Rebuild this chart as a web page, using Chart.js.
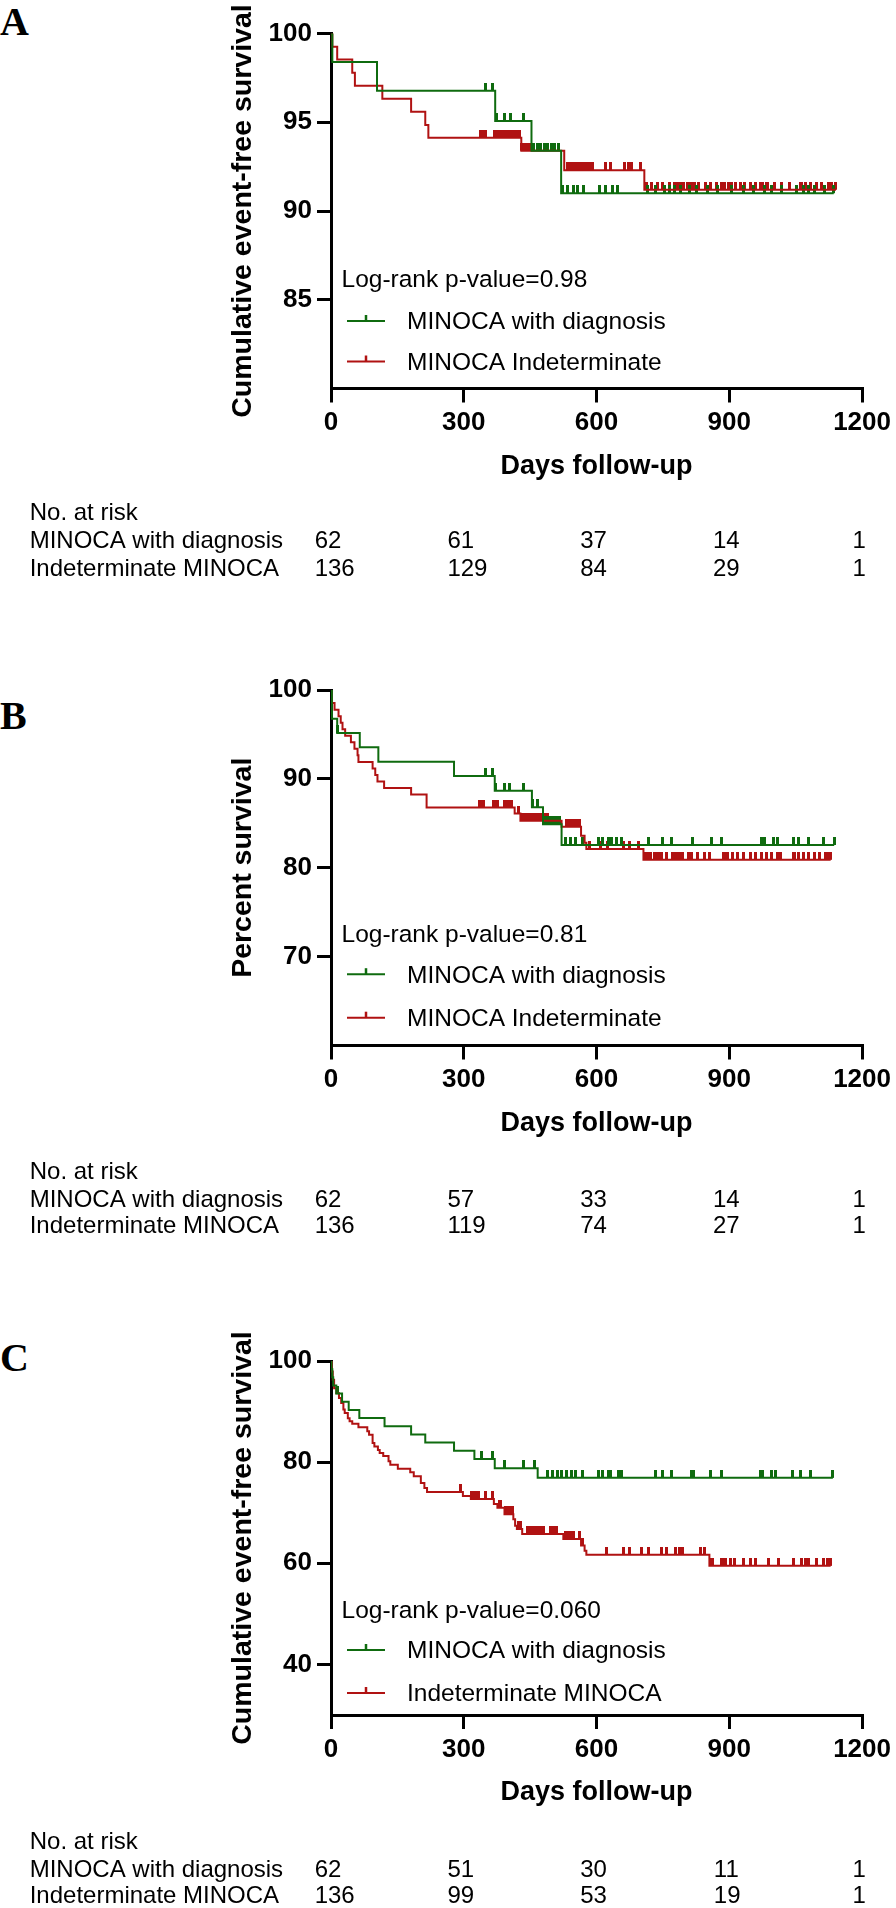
<!DOCTYPE html>
<html>
<head>
<meta charset="utf-8">
<script src="https://cdn.jsdelivr.net/npm/chart.js@4.4.1/dist/chart.umd.min.js"></script>
<style>
html,body{margin:0;padding:0;background:#fff;}
body{width:896px;height:1908px;position:relative;overflow:hidden;}
canvas{position:absolute;left:0;}
.lbl{position:absolute;left:0;font-family:"Liberation Serif","Times New Roman",serif;font-weight:bold;font-size:40px;line-height:40px;color:#000;}
</style>
</head>
<body>
<div class="lbl" style="top:2px">A</div>
<div class="lbl" style="top:696px">B</div>
<div class="lbl" style="top:1338px">C</div>
<canvas id="cA" width="896" height="600" style="top:0px"></canvas>
<canvas id="cB" width="896" height="620" style="top:640px"></canvas>
<canvas id="cC" width="896" height="608" style="top:1300px"></canvas>
<script>
// ---------------- DATA ----------------
const xTicks = [0, 300, 600, 900, 1200];
const xTickLabels = ['0', '300', '600', '900', '1200'];
const atRiskDays = [0, 300, 600, 900, 1200];
const tableLabels = ['MINOCA with diagnosis', 'Indeterminate MINOCA'];

// Panel A
const yTicksA = [85, 90, 95, 100];
const yTitleA = 'Cumulative event-free survival';
const pTextA = 'Log-rank p-value=0.98';
const legendA = ['MINOCA with diagnosis', 'MINOCA Indeterminate'];
const aDiagDays = [0, 3, 104, 371, 453, 520, 1136];
const aDiagSurv = [100, 98.39, 96.77, 95.07, 93.4, 91.0, 91.0];
const aDiagCensor = [350, 366, 375, 393, 405, 435, 458, 466, 474, 482, 490, 498, 506, 514, 523, 535, 547, 557, 571, 607, 620, 636, 648, 716, 733, 753, 765, 777, 790, 809, 826, 850, 874, 906, 931, 955, 979, 995, 1019, 1052, 1068, 1080, 1092, 1116, 1136];
const aIndDays = [0, 3, 14, 48, 54, 116, 181, 213, 220, 430, 527, 708, 1141];
const aIndSurv = [100, 99.26, 98.53, 97.79, 97.06, 96.32, 95.59, 94.85, 94.12, 93.4, 92.3, 91.2, 91.2];
const aIndCensor = [337, 340, 343, 346, 349, 369, 372, 375, 378, 381, 386, 391, 396, 401, 405, 410, 414, 418, 422, 426, 431, 434, 438, 441, 444, 448, 535, 538, 541, 544, 547, 551, 555, 559, 563, 567, 571, 575, 579, 585, 590, 620, 632, 664, 672, 680, 700, 712, 725, 737, 749, 765, 777, 781, 785, 789, 793, 797, 805, 811, 817, 822, 830, 846, 858, 870, 882, 886, 890, 898, 906, 914, 926, 935, 947, 959, 971, 975, 983, 987, 1003, 1019, 1035, 1060, 1064, 1072, 1084, 1096, 1108, 1124, 1132, 1141];
const atRiskA = [[62, 61, 37, 14, 1], [136, 129, 84, 29, 1]];

// Panel B
const yTicksB = [70, 80, 90, 100];
const yTitleB = 'Percent survival';
const pTextB = 'Log-rank p-value=0.81';
const legendB = ['MINOCA with diagnosis', 'MINOCA Indeterminate'];
const bDiagDays = [0, 2, 14, 65, 107, 278, 370, 454, 479, 521, 1137];
const bDiagSurv = [100, 96.77, 95.16, 93.55, 91.94, 90.32, 88.65, 86.8, 84.9, 82.56, 82.56];
const bDiagCensor = [15, 350, 366, 372, 392, 404, 436, 456, 466, 481, 487, 493, 499, 505, 511, 517, 529, 541, 553, 568, 605, 614, 626, 634, 646, 656, 718, 750, 769, 817, 859, 883, 972, 980, 1000, 1008, 1044, 1056, 1080, 1113, 1137];
const bIndDays = [0, 2, 8, 17, 22, 26, 32, 45, 53, 60, 62, 94, 100, 105, 120, 181, 216, 415, 428, 521, 565, 573, 577, 706, 1129];
const bIndSurv = [100, 98.53, 97.79, 97.06, 96.32, 95.59, 94.85, 94.12, 93.38, 92.65, 91.91, 91.18, 90.44, 89.71, 88.97, 88.24, 86.77, 86.1, 85.3, 84.6, 83.6, 82.8, 82.1, 80.9, 80.9];
const bIndCensor = [336, 340, 344, 368, 372, 376, 392, 396, 400, 404, 408, 424, 432, 436, 440, 444, 448, 452, 457, 461, 465, 469, 473, 477, 481, 485, 489, 533, 537, 541, 545, 549, 553, 557, 561, 585, 609, 625, 662, 674, 694, 710, 714, 718, 722, 730, 738, 742, 746, 758, 771, 775, 779, 783, 787, 791, 795, 807, 815, 827, 843, 855, 887, 891, 895, 907, 919, 932, 948, 960, 972, 984, 996, 1008, 1016, 1044, 1048, 1056, 1068, 1080, 1092, 1104, 1117, 1121, 1129];
const atRiskB = [[62, 57, 33, 14, 1], [136, 119, 74, 27, 1]];

// Panel C
const yTicksC = [40, 60, 80, 100];
const yTitleC = 'Cumulative event-free survival';
const pTextC = 'Log-rank p-value=0.060';
const legendC = ['MINOCA with diagnosis', 'Indeterminate MINOCA'];
const cDiagDays = [0, 1, 3, 5, 12, 25, 40, 64, 121, 181, 213, 278, 324, 370, 467, 1134];
const cDiagSurv = [100, 98.39, 96.77, 95.16, 93.55, 91.94, 90.32, 88.71, 87.10, 85.48, 83.87, 82.26, 80.6, 78.8, 76.9, 76.9];
const cDiagCensor = [15, 340, 366, 392, 435, 459, 489, 501, 511, 521, 533, 544, 553, 568, 605, 614, 626, 632, 650, 656, 734, 750, 769, 815, 819, 857, 883, 970, 976, 996, 1004, 1043, 1060, 1083, 1134];
const cIndDays = [0, 2, 4, 7, 12, 18, 23, 28, 31, 38, 42, 48, 62, 82, 86, 94, 98, 106, 110, 118, 130, 134, 151, 179, 187, 203, 211, 217, 298, 316, 368, 376, 392, 412, 416, 420, 432, 525, 565, 573, 577, 855, 1129];
const cIndSurv = [100, 97.9, 96.3, 94.6, 93.6, 92.7, 91.7, 90.4, 89.7, 88.7, 88.1, 87.6, 86.9, 86.1, 85.4, 83.8, 83.1, 82.4, 81.8, 81.2, 80.2, 79.5, 78.7, 78.0, 77.2, 75.9, 74.9, 74.1, 73.3, 72.7, 71.7, 71.0, 69.7, 68.7, 67.4, 66.8, 65.8, 64.8, 63.5, 62.5, 61.7, 59.5, 59.5];
const cIndCensor = [293, 318, 321, 324, 327, 330, 333, 350, 366, 380, 384, 395, 398, 402, 406, 410, 424, 428, 444, 448, 452, 456, 460, 465, 469, 473, 477, 481, 497, 501, 505, 509, 529, 533, 537, 541, 545, 549, 561, 569, 622, 662, 674, 702, 718, 746, 758, 779, 787, 791, 795, 835, 843, 859, 863, 883, 887, 891, 903, 911, 932, 948, 960, 988, 1012, 1044, 1064, 1072, 1080, 1097, 1113, 1121, 1129];
const atRiskC = [[62, 51, 30, 11, 1], [136, 99, 53, 19, 1]];

// ---------------- STYLE / LAYOUT ----------------
const FONT = '"Liberation Sans", Arial, Helvetica, sans-serif';
const GREEN = '#0f6b0f';
const RED = '#b01212';

function tickImage(color) {
  const c = document.createElement('canvas');
  c.width = 3; c.height = 16;
  const g = c.getContext('2d');
  g.fillStyle = color;
  g.fillRect(0, 0, 3, 8);
  return c;
}
function survAt(days, surv, t) {
  let v = surv[0];
  for (let i = 0; i < days.length; i++) { if (days[i] <= t) v = surv[i]; }
  return v;
}

const overlay = {
  id: 'overlay',
  afterDraw(chart, args, o) {
    const ctx = chart.ctx;
    const bottom = chart.chartArea.bottom;
    const xs = chart.scales.x;
    const L = o.lay;
    ctx.save();
    ctx.font = '24.5px ' + FONT;
    ctx.fillStyle = '#000';
    ctx.textAlign = 'left';
    ctx.textBaseline = 'alphabetic';
    ctx.fillText(o.pText, 341.5, bottom - L.p);
    o.legend.forEach((t, i) => {
      const y = bottom - L.leg[i];
      ctx.strokeStyle = o.colors[i];
      ctx.lineWidth = 2;
      ctx.beginPath(); ctx.moveTo(347, y); ctx.lineTo(385, y); ctx.stroke();
      ctx.lineWidth = 2.5;
      ctx.beginPath(); ctx.moveTo(366, y); ctx.lineTo(366, y - 6); ctx.stroke();
      ctx.fillStyle = '#000';
      ctx.fillText(t, 407, y + 8.3);
    });
    ctx.font = '24px ' + FONT;
    ctx.fillText('No. at risk', 29.7, bottom + L.tab[0]);
    ctx.fillText(tableLabels[0], 29.7, bottom + L.tab[1]);
    ctx.fillText(tableLabels[1], 29.7, bottom + L.tab[2]);
    atRiskDays.forEach((d, k) => {
      const px = xs.getPixelForValue(d);
      const w1 = ctx.measureText(String(o.atRisk[0][k])).width;
      const left = px - w1 / 2 - 3;
      ctx.fillText(String(o.atRisk[0][k]), left, bottom + L.tab[1]);
      ctx.fillText(String(o.atRisk[1][k]), left, bottom + L.tab[2]);
    });
    ctx.restore();
  }
};

function makePanel(p) {
  const datasets = [];
  p.groups.forEach(g => {
    datasets.push({
      data: g.days.map((d, i) => ({ x: d, y: g.surv[i] })),
      borderColor: g.color, backgroundColor: g.color, borderWidth: 2,
      stepped: 'before', pointRadius: 0, fill: false
    });
  });
  p.groups.forEach(g => {
    datasets.push({
      data: g.censor.map(t => ({ x: t, y: survAt(g.days, g.surv, t) })),
      showLine: false, borderColor: g.color, backgroundColor: g.color,
      pointStyle: tickImage(g.color), pointRadius: 8, pointHoverRadius: 8
    });
  });
  const axisGrid = { drawOnChartArea: false, drawTicks: true, tickLength: 14, tickWidth: 3, tickColor: '#000', lineWidth: 3, color: '#000' };
  const axisBorder = { display: true, color: '#000', width: 3 };
  new Chart(document.getElementById(p.id), {
    type: 'line',
    data: { datasets },
    plugins: [overlay],
    options: {
      responsive: false, animation: false, devicePixelRatio: 1,
      layout: { padding: { left: 226, right: 33, top: p.padTop, bottom: p.padBottom } },
      plugins: {
        legend: { display: false }, tooltip: { enabled: false },
        overlay: { lay: p.lay, pText: p.pText, legend: p.legend, colors: p.groups.map(g => g.color), atRisk: p.atRisk }
      },
      scales: {
        x: {
          type: 'linear', min: 0, max: 1200,
          afterBuildTicks: s => { s.ticks = xTicks.map(v => ({ value: v })); },
          afterFit: s => { s.height = 94.2; },
          ticks: { callback: (v, i) => xTickLabels[i], font: { family: FONT, size: 26, weight: 'bold' }, color: '#000', padding: 5, maxRotation: 0, autoSkip: false },
          grid: axisGrid, border: axisBorder,
          title: { display: true, text: 'Days follow-up', font: { family: FONT, size: 27, weight: 'bold' }, color: '#000', padding: 0 }
        },
        y: {
          type: 'linear', min: p.yMin, max: 100,
          afterBuildTicks: s => { s.ticks = p.yTicks.map(v => ({ value: v })); },
          afterFit: s => { s.width = 105; },
          ticks: { callback: v => String(v), font: { family: FONT, size: 26, weight: 'bold' }, color: '#000', padding: 5, autoSkip: false },
          grid: axisGrid, border: axisBorder,
          title: { display: true, text: p.yTitle, font: { family: FONT, size: 28.5, weight: 'bold' }, color: '#000', padding: 0 }
        }
      }
    }
  });
}

makePanel({
  id: 'cA', yMin: 80, yTicks: yTicksA, yTitle: yTitleA, pText: pTextA, legend: legendA, atRisk: atRiskA,
  padTop: 33.5, padBottom: 117.3,
  lay: { p: 102, leg: [67.5, 27], tab: [131.5, 159.8, 187.5] },
  groups: [
    { days: aDiagDays, surv: aDiagSurv, censor: aDiagCensor, color: GREEN },
    { days: aIndDays, surv: aIndSurv, censor: aIndCensor, color: RED }
  ]
});
makePanel({
  id: 'cB', yMin: 60, yTicks: yTicksB, yTitle: yTitleB, pText: pTextB, legend: legendB, atRisk: atRiskB,
  padTop: 50, padBottom: 120.3,
  lay: { p: 104, leg: [71.3, 27.8], tab: [133.8, 161.8, 187.8] },
  groups: [
    { days: bDiagDays, surv: bDiagSurv, censor: bDiagCensor, color: GREEN },
    { days: bIndDays, surv: bIndSurv, censor: bIndCensor, color: RED }
  ]
});
makePanel({
  id: 'cC', yMin: 30, yTicks: yTicksC, yTitle: yTitleC, pText: pTextC, legend: legendC, atRisk: atRiskC,
  padTop: 61, padBottom: 98.8,
  lay: { p: 97.5, leg: [65, 22], tab: [134, 162, 188] },
  groups: [
    { days: cDiagDays, surv: cDiagSurv, censor: cDiagCensor, color: GREEN },
    { days: cIndDays, surv: cIndSurv, censor: cIndCensor, color: RED }
  ]
});
</script>
</body>
</html>
